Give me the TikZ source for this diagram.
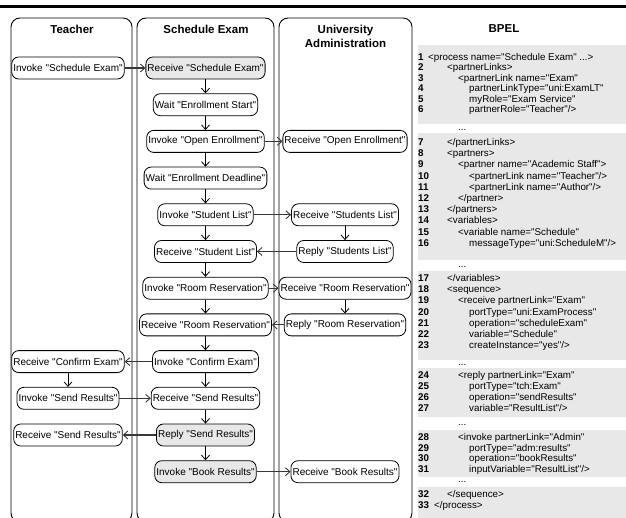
\documentclass[tikz,border=0pt]{standalone}
\usepackage{fontspec}
\newfontfamily\figfont{Liberation Sans}
\usetikzlibrary{arrows.meta,positioning}
\definecolor{actgray}{gray}{0.91}
\definecolor{codegray}{gray}{0.91}
\definecolor{msggray}{gray}{0.22}
\tikzset{
  lane/.style ={draw,line width=0.9pt,rounded corners=9pt},
  ttl/.style  ={font=\figfont\bfseries\fontsize{11.5}{14}\selectfont,align=center,inner sep=0pt},
  act/.style  ={draw,line width=0.8pt,rounded corners=7pt,fill=white,minimum height=22pt,
                inner xsep=1.6pt,inner ysep=0pt,font=\figfont\fontsize{10}{12}\selectfont},
  actg/.style ={act,fill=actgray},
  flow/.style ={draw,line width=0.8pt,-{Straight Barb[length=4.5pt,width=8pt]}},
  msg/.style  ={draw,line width=1.2pt,msggray,-{Straight Barb[length=4.5pt,width=8pt,line width=0.9pt]}},
  lnum/.style ={anchor=base west,inner sep=0pt,font=\figfont\bfseries\fontsize{9.8}{11}\selectfont},
  ltxt/.style ={anchor=base west,inner sep=0pt,font=\figfont\fontsize{9.8}{11}\selectfont},
  codeblk/.style={fill=codegray},
}
% one BPEL line: name, centre y, number, indent x, text
\newcommand\bpelline[5]{%
  \node[lnum] (n#1) at (418,#2+3.5) {#3};
  \node[ltxt] (c#1) at (#4,#2+3.5) {#5};}
\newcommand\bpeldots[2]{\node[ltxt] (d#1) at (458,#2+0.5) {...};}

\begin{document}
\begin{tikzpicture}[x=1pt,y=-1pt]
\useasboundingbox (0,0) rectangle (626,518);
\draw[line width=3pt] (0,6.5) -- (626,6.5);

% swim lanes
\draw[lane] (11,18) rectangle (132,522);
\draw[lane] (137,18) rectangle (274,522);
\draw[lane] (279,18) rectangle (412,522);
\node[ttl] (teacher) at (72,29) {Teacher};
\node[ttl] (sched) at (206,29) {Schedule Exam};
\node[ttl] (univ) at (345.5,36) {University\\Administration};
\node[ttl] (bpel) at (504,29) {BPEL};

% teacher
\node[act]  (t1) at (68,68)    {Invoke "Schedule Exam"};
\node[act]  (t2) at (68,361.6) {Receive "Confirm Exam"};
\node[act]  (t3) at (68,398.3) {Invoke "Send Results"};
\node[act]  (t4) at (68,435)   {Receive "Send Results"};

% schedule exam
\node[actg] (s1)  at (205.5,68)    {Receive "Schedule Exam"};
\node[act]  (s2)  at (205.5,104.7) {Wait "Enrollment Start"};
\node[act]  (s3)  at (205.5,141.4) {Invoke "Open Enrollment"};
\node[act]  (s4)  at (205.5,178.1) {Wait "Enrollment Deadline"};
\node[act]  (s5)  at (205.5,214.8) {Invoke "Student List"};
\node[act]  (s6)  at (205.5,251.5) {Receive "Student List"};
\node[act]  (s7)  at (205.5,288.2) {Invoke "Room Reservation"};
\node[act]  (s8)  at (205.5,324.9) {Receive "Room Reservation"};
\node[act]  (s9)  at (205.5,361.6) {Invoke "Confirm Exam"};
\node[act]  (s10) at (205.5,398.3) {Receive "Send Results"};
\node[actg] (s11) at (205.5,435)   {Reply "Send Results"};
\node[actg] (s12) at (205.5,471.7) {Invoke "Book Results"};

% university administration
\node[act]  (u1) at (345,141.4) {Receive "Open Enrollment"};
\node[act]  (u2) at (345,214.8) {Receive "Students List"};
\node[act]  (u3) at (345,251.5) {Reply "Students List"};
\node[act]  (u4) at (345,288.2) {Receive "Room Reservation"};
\node[act]  (u5) at (345,324.9) {Reply "Room Reservation"};
\node[act]  (u6) at (345,471.7) {Receive "Book Results"};

% control flow
\foreach \a/\b in {s1/s2,s2/s3,s3/s4,s4/s5,s5/s6,s6/s7,s7/s8,s8/s9,s9/s10,s10/s11,s11/s12,
                   u2/u3,u4/u5,t2/t3}
  \draw[flow] (\a) -- (\b);

% messages
\foreach \a/\b in {t1/s1,s3/u1,s5/u2,u3/s6,s7/u4,u5/s8,s9/t2,t3/s10,s11/t4,s12/u6}
  \draw[msg] (\a) -- (\b);

% BPEL listing
\fill[codeblk] (418,45)  rectangle (630,124);
\fill[codeblk] (418,133) rectangle (630,260);
\fill[codeblk] (418,271) rectangle (630,360);
\fill[codeblk] (418,368) rectangle (630,417);
\fill[codeblk] (418,430) rectangle (630,477);
\fill[codeblk] (418,487) rectangle (630,530);

\bpelline{1}{57}{1}{428}{<process name="Schedule Exam" ...>}
\bpelline{2}{67.4}{2}{447}{<partnerLinks>}
\bpelline{3}{77.8}{3}{458}{<partnerLink name="Exam"}
\bpelline{4}{88.2}{4}{469}{partnerLinkType="uni:ExamLT"}
\bpelline{5}{98.6}{5}{469}{myRole="Exam Service"}
\bpelline{6}{109}{6}{469}{partnerRole="Teacher"/>}
\bpeldots{1}{130}
\bpelline{7}{142}{7}{447}{</partnerLinks>}
\bpelline{8}{153.2}{8}{447}{<partners>}
\bpelline{9}{164.4}{9}{458}{<partner name="Academic Staff">}
\bpelline{10}{175.6}{10}{469}{<partnerLink name="Teacher"/>}
\bpelline{11}{186.8}{11}{469}{<partnerLink name="Author"/>}
\bpelline{12}{198}{12}{458}{</partner>}
\bpelline{13}{209.2}{13}{447}{</partners>}
\bpelline{14}{220.4}{14}{447}{<variables>}
\bpelline{15}{231.6}{15}{458}{<variable name="Schedule"}
\bpelline{16}{242.8}{16}{469}{messageType="uni:ScheduleM"/>}
\bpeldots{2}{267}
\bpelline{17}{278}{17}{447}{</variables>}
\bpelline{18}{289.2}{18}{447}{<sequence>}
\bpelline{19}{300.4}{19}{458}{<receive partnerLink="Exam"}
\bpelline{20}{311.6}{20}{469}{portType="uni:ExamProcess"}
\bpelline{21}{322.8}{21}{469}{operation="scheduleExam"}
\bpelline{22}{334}{22}{469}{variable="Schedule"}
\bpelline{23}{345.2}{23}{469}{createInstance="yes"/>}
\bpeldots{3}{365}
\bpelline{24}{375}{24}{458}{<reply partnerLink="Exam"}
\bpelline{25}{386}{25}{469}{portType="tch:Exam"}
\bpelline{26}{397}{26}{469}{operation="sendResults"}
\bpelline{27}{408}{27}{469}{variable="ResultList"/>}
\bpeldots{4}{425}
\bpelline{28}{437}{28}{458}{<invoke partnerLink="Admin"}
\bpelline{29}{447.6}{29}{469}{portType="adm:results"}
\bpelline{30}{458.2}{30}{469}{operation="bookResults"}
\bpelline{31}{468.8}{31}{469}{inputVariable="ResultList"/>}
\bpeldots{5}{482}
\bpelline{32}{494}{32}{447}{</sequence>}
\bpelline{33}{505}{33}{434}{</process>}
\end{tikzpicture}
\end{document}
